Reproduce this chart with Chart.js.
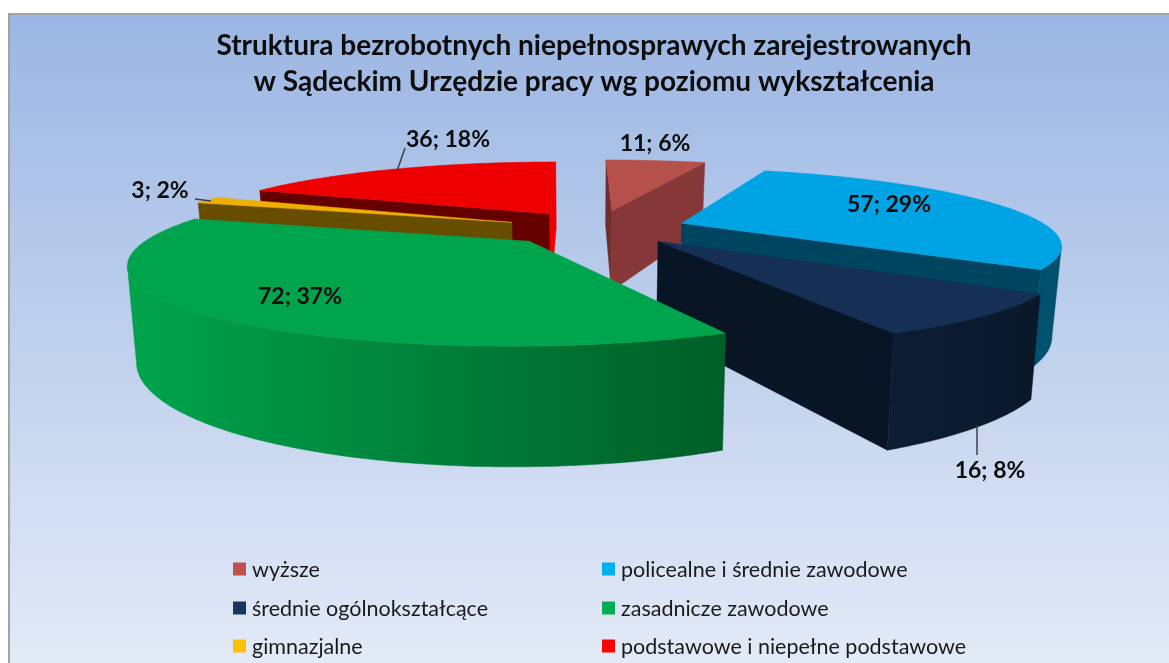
<!DOCTYPE html>
<html lang="pl"><head><meta charset="utf-8">
<style>html,body{margin:0;padding:0;background:#fff}canvas{display:block}</style>
<script src="https://cdn.jsdelivr.net/npm/chart.js@4/dist/chart.umd.js"></script>
</head><body><canvas id="c" width="1169" height="663"></canvas>
<script>
const categories = ['wyższe','policealne i średnie zawodowe','średnie ogólnokształcące','zasadnicze zawodowe','gimnazjalne','podstawowe i niepełne podstawowe'];
const values = [11,57,16,72,3,36];
const titleLines = ['Struktura bezrobotnych niepełnosprawych zarejestrowanych','w Sądeckim Urzędzie pracy wg poziomu wykształcenia'];
const legendColors = ['#c0504d','#00b0f0','#17375e','#00b050','#ffc000','#ff0000'];

// styling of the 3D faces
const topColors   = ['#b5504b','#00a3e3','#152f55','#00a44c','#efaf00','#ee0000'];
const startColors = ['#6f2f2f','#00455f','#071525','#006028','#664d00','#640000'];
const endColors   = ['#853837','#00455f','#071525','#006028','#664d00','#ee0000'];
const outerFrom   = ['#853837','#00455f','#0c1d34','#00a44c','#664d00','#640000'];
const outerTo     = ['#853837','#00526f','#0a1829','#005e28','#664d00','#640000'];
const explode     = [0.27,0.26,0.22,0.24,0.25,0.26];
const nudgeX      = [0.012,0,0.03,-0.005,0.012,0.023];
const nudgeY      = [0,0,0,-0.01,0,0];
const paintOrder  = [5,0,4,1,2,3];

// camera of the tilted pie
const cam = {cx:581, cy:230, rx:370, ry:72, p:0.25, shiftX:0.03, shiftY:-0.02, depth:86, taper:0.98};
function project(X,Y,bottom){
  const w = 1 - cam.p*Y;
  if(!bottom) return [cam.cx + cam.rx*X/w, cam.cy + cam.ry*Y/w];
  return [cam.cx + cam.rx*cam.taper*X/w, cam.cy + (cam.ry*Y + cam.depth)/w];
}
function fillPoly(ctx,pts,fill){
  ctx.beginPath();
  pts.forEach((p,i)=> i?ctx.lineTo(p[0],p[1]):ctx.moveTo(p[0],p[1]));
  ctx.closePath(); ctx.fillStyle=fill; ctx.fill();
  ctx.lineWidth=0.5; ctx.strokeStyle=fill; ctx.stroke();
}
Chart.ArcElement.prototype.draw = function(ctx){
  const i = this.$context.dataIndex;
  const a0 = this.startAngle + Math.PI/2, a1 = this.endAngle + Math.PI/2;
  const am = (a0+a1)/2, d = this.options.offset/100;
  const ax = cam.shiftX + nudgeX[i] + d*Math.sin(am), ay = cam.shiftY + nudgeY[i] - d*Math.cos(am);
  const rim = a => [ax+Math.sin(a), ay-Math.cos(a)];
  const n = Math.max(4,Math.ceil((a1-a0)*180/Math.PI));
  const angs=[]; for(let k=0;k<=n;k++) angs.push(a0+(a1-a0)*k/n);
  const top = angs.map(a=>project(...rim(a),false));
  const bot = angs.map(a=>project(...rim(a),true));
  const apexT = project(ax,ay,false), apexB = project(ax,ay,true);
  const mid = project(...rim(am),false);
  const visible = p => { const ex=p[0]-apexT[0],ey=p[1]-apexT[1],vx=mid[0]-apexT[0],vy=mid[1]-apexT[1];
    return Math.sign(ex)*(ex*vy-ey*vx)<0; };
  ctx.save();
  if(visible(top[0])) fillPoly(ctx,[apexT,top[0],bot[0],apexB],startColors[i]);
  if(visible(top[n])) fillPoly(ctx,[apexT,top[n],bot[n],apexB],endColors[i]);
  // outer curved wall: contiguous strips facing the viewer
  const xs=top.concat(bot).map(p=>p[0]);
  const g=ctx.createLinearGradient(Math.min(...xs),0,Math.max(...xs),0);
  g.addColorStop(0,outerFrom[i]); g.addColorStop(1,outerTo[i]);
  let run=null;
  const flush=()=>{ if(run&&run.length>1){ fillPoly(ctx,run.map(k=>top[k]).concat(run.slice().reverse().map(k=>bot[k])),g);} run=null; };
  for(let k=0;k<n;k++){
    if(top[k+1][0]<top[k][0]){ if(!run) run=[k]; run.push(k+1);} else flush();
  }
  flush();
  fillPoly(ctx,[apexT].concat(top),topColors[i]);
  ctx.restore();
};
Chart.PieController.prototype.draw = function(){
  const ctx=this._ctx, data=this._cachedMeta.data;
  paintOrder.forEach(i=>data[i].draw(ctx));
};

// text placement
const labelFont = 'bold 23px Lato';
const labelCenters = [[655,144],[889,205],[990,471],[300,297],[160,191],[448,140]];
const leaders = [[[405,148],[397,171]],[[195,199],[211,201]],[[977,425],[977,455]]];
const legendX = [233,602], legendY = [569,608,646];
const total = values.reduce((a,b)=>a+b,0);

const framePlugin = {id:'frame',
  beforeDraw(chart){
    const c=chart.ctx,W=chart.width,H=chart.height;
    c.save(); c.fillStyle='#fff'; c.fillRect(0,0,W,H);
    const g=c.createLinearGradient(0,13,0,H);
    g.addColorStop(0,'#9bb6e3'); g.addColorStop(1,'#e3eaf7');
    c.fillStyle=g; c.fillRect(8,13,W-8,H-13);
    c.fillStyle='#a3a3a3'; c.fillRect(8,13,W-8,2); c.fillRect(8,13,2,H-13);
    c.restore();
  }};
const annotatePlugin = {id:'annotate',
  afterDraw(chart){
    const c=chart.ctx; c.save();
    c.strokeStyle='#404040'; c.lineWidth=1.5;
    leaders.forEach(l=>{c.beginPath();c.moveTo(l[0][0],l[0][1]);c.lineTo(l[1][0],l[1][1]);c.stroke();});
    c.fillStyle='#0d0d0d'; c.font=labelFont; c.textAlign='center'; c.textBaseline='middle';
    values.forEach((v,i)=>c.fillText(v+'; '+Math.round(v/total*100)+'%',labelCenters[i][0],labelCenters[i][1]));
    c.font='21.5px Lato'; c.textAlign='left';
    categories.forEach((t,i)=>{
      const x=legendX[i%2], y=legendY[Math.floor(i/2)];
      c.fillStyle=legendColors[i]; c.fillRect(x,y-6.5,13,13);
      c.fillStyle='#1a1a1a'; c.fillText(t,x+19,y+1);
    });
    c.restore();
  }};

new Chart(document.getElementById('c'),{
  type:'pie',
  data:{labels:categories,datasets:[{data:values,backgroundColor:legendColors,offset:explode.map(e=>e*100),borderWidth:0}]},
  options:{responsive:false,animation:false,
    layout:{padding:{left:19,top:28}},
    plugins:{legend:{display:false},tooltip:{enabled:false},
      title:{display:true,text:titleLines,color:'#0d0d0d',font:{family:'Lato',size:28,weight:'bold',lineHeight:1.286},padding:{top:0,bottom:0}}}
  },
  plugins:[framePlugin,annotatePlugin]
});
</script></body></html>
